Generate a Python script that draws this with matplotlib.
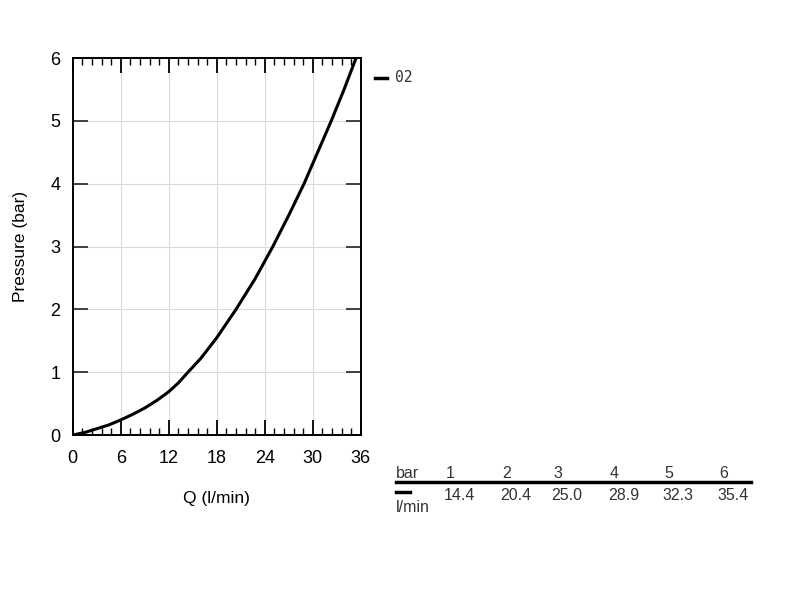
import matplotlib.pyplot as plt
from matplotlib.ticker import MultipleLocator

plt.rcParams["font.family"] = ["Liberation Sans", "DejaVu Sans"]

# curve (l/min, bar)
flow = [0, 1.5, 3, 4.5, 6, 7.5, 9, 10.5, 12, 13.2, 14.4, 16, 18, 20.4,
        22.8, 25.0, 27.0, 28.9, 30.6, 32.3, 33.9, 35.4]
pressure = [0, 0.04, 0.1, 0.16, 0.24, 0.33, 0.43, 0.55, 0.69, 0.83, 1.0,
            1.22, 1.55, 2.0, 2.49, 3.0, 3.5, 4.0, 4.5, 5.0, 5.5, 6.0]

# table under the chart
table_bar = [1, 2, 3, 4, 5, 6]
table_flow = [14.4, 20.4, 25.0, 28.9, 32.3, 35.4]
series_name = "02"

fig = plt.figure(figsize=(8, 6), dpi=100)
ax = fig.add_axes([0.091, 0.275, 0.36, 0.628])

ax.plot(flow, pressure, color="black", lw=2.2, solid_capstyle="butt")
ax.set_xlim(0, 36)
ax.set_ylim(0, 6)
ax.xaxis.set_major_locator(MultipleLocator(6))
ax.xaxis.set_minor_locator(MultipleLocator(1.2))
ax.yaxis.set_major_locator(MultipleLocator(1))
ax.grid(True, which="major", color="#dadada", lw=0.8)
ax.tick_params(axis="x", which="major", direction="in", length=11, width=1.3,
               top=True, labelsize=13, pad=11)
ax.tick_params(axis="x", which="minor", direction="in", length=5, width=1.0,
               top=True)
ax.tick_params(axis="y", which="major", direction="in", length=11, width=1.3,
               right=True, labelsize=13, pad=9, color="#333333")
for s in ax.spines.values():
    s.set_linewidth(1.4)
ax.set_xlabel("Q (l/min)", fontsize=12.5, labelpad=17)
ax.set_ylabel("Pressure (bar)", fontsize=12.5, labelpad=16)

# legend entry to the right of the plot
fig.add_artist(plt.Line2D([375 / 800, 387 / 800], [1 - 78 / 600] * 2,
                          color="black", lw=2.5))
fig.text(395 / 800, 1 - 78 / 600, series_name, family="DejaVu Sans Mono",
         fontsize=10.5, color="#333333", va="center")

# value table
xs = [446, 502, 553, 610, 664, 719]
fs = 11.5
fig.text(396 / 800, 1 - 474 / 600, "bar", fontsize=fs, color="#333333",
         va="center")
fig.add_artist(plt.Line2D([396 / 800, 751 / 800], [1 - 482 / 600] * 2,
                          color="black", lw=2.5))
fig.add_artist(plt.Line2D([396 / 800, 410 / 800], [1 - 492 / 600] * 2,
                          color="black", lw=2.5))
fig.text(396 / 800, 1 - 508 / 600, "l/min", fontsize=fs, color="#333333",
         va="center")
for x, b, q in zip(xs, table_bar, table_flow):
    fig.text(x / 800, 1 - 474 / 600, f"{b}", fontsize=fs, color="#333333",
             va="center")
    fig.text((x - 2) / 800, 1 - 495 / 600, f"{q:.1f}", fontsize=fs,
             color="#333333", va="center")

fig.savefig("out.png", dpi=100)
